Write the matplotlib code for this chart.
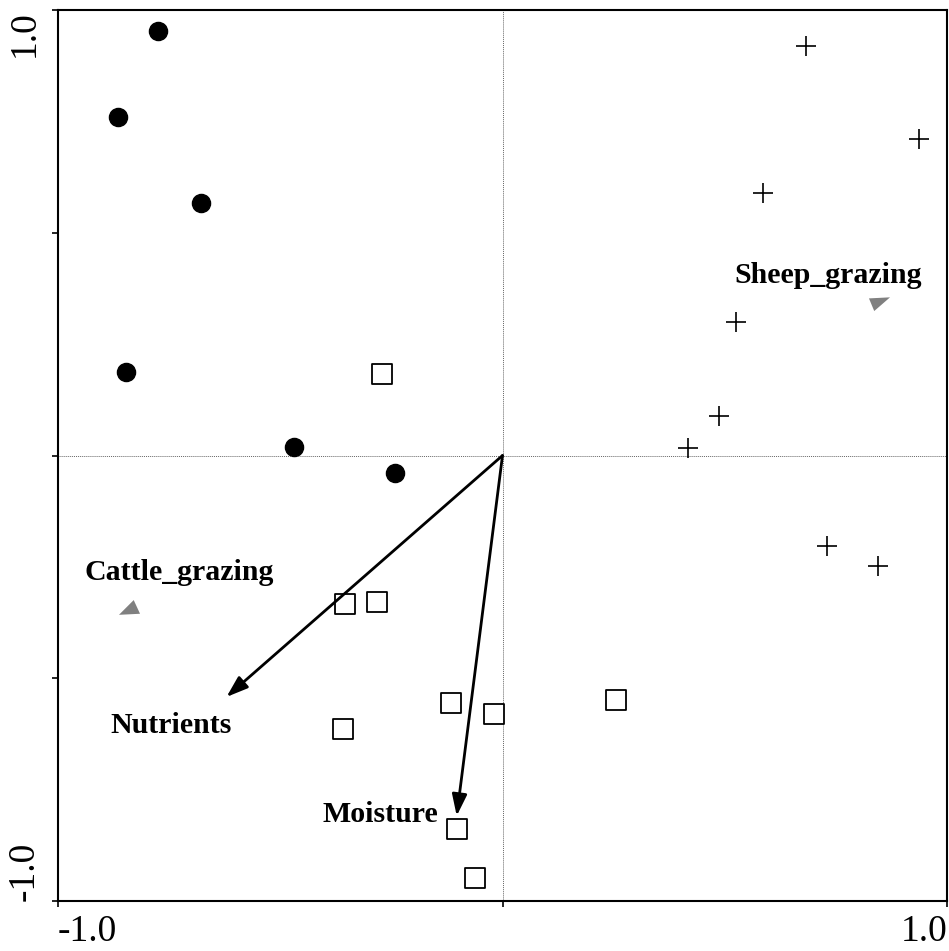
import matplotlib.pyplot as plt

# sample scores
circ_x = [-0.774, -0.866, -0.679, -0.848, -0.470, -0.241]
circ_y = [0.953, 0.760, 0.566, 0.187, 0.018, -0.040]

plus_x = [0.682, 0.936, 0.587, 0.526, 0.486, 0.418, 0.729, 0.844]
plus_y = [0.919, 0.710, 0.589, 0.299, 0.088, 0.016, -0.204, -0.249]

sq_x = [-0.272, -0.355, -0.283, -0.115, -0.018, 0.256, -0.358, -0.103, -0.061]
sq_y = [0.182, -0.333, -0.328, -0.555, -0.580, -0.548, -0.613, -0.838, -0.948]

# environmental variables (arrows)
env_names = ['Nutrients', 'Moisture']
env_x = [-0.621, -0.103]
env_y = [-0.542, -0.809]

# nominal variables (centroids)
nom_names = ['Sheep_grazing', 'Cattle_grazing']
nom_x = [0.846, -0.841]
nom_y = [0.348, -0.342]

plt.rcParams['font.family'] = ['Liberation Serif', 'DejaVu Serif']

fig = plt.figure(figsize=(9.49, 9.51), dpi=100)
ax = fig.add_axes([58 / 949, 50 / 951, 889 / 949, 891 / 951])

ax.axhline(0, color='#666666', lw=0.7, ls=(0, (1, 1)), zorder=1)
ax.axvline(0, color='#666666', lw=0.7, ls=(0, (1, 1)), zorder=1)

ax.scatter(circ_x, circ_y, s=170, c='black', marker='o', zorder=3)
ax.scatter(plus_x, plus_y, s=200, c='black', marker='+', linewidths=1.2, zorder=3)
ax.scatter(sq_x, sq_y, s=190, facecolors='white', edgecolors='black',
           marker='s', linewidths=1.3, zorder=3)

for name, x, y in zip(env_names, env_x, env_y):
    ax.annotate('', xy=(x, y), xytext=(0, 0),
                arrowprops=dict(arrowstyle='-|>,head_length=1.3,head_width=0.45',
                                color='black', lw=2, shrinkA=0, shrinkB=0), zorder=4)

ax.text(-0.745, -0.605, env_names[0], fontsize=21.5, fontweight='bold', ha='center', va='center')
ax.text(-0.275, -0.805, env_names[1], fontsize=21.5, fontweight='bold', ha='center', va='center')

sheep_tri = [(-1.0, 0.2), (1.0, 0.3), (-0.5, -1.0)]
cattle_tri = [(-1.0, -0.6), (1.0, -0.5), (0.4, 0.8)]
ax.scatter([nom_x[0]], [nom_y[0]], s=230, c='#808080', marker=sheep_tri, linewidths=0, zorder=3)
ax.scatter([nom_x[1]], [nom_y[1]], s=230, c='#808080', marker=cattle_tri, linewidths=0, zorder=3)
ax.text(0.732, 0.405, nom_names[0], fontsize=21.5, fontweight='bold', ha='center', va='center')
ax.text(-0.727, -0.262, nom_names[1], fontsize=21.5, fontweight='bold', ha='center', va='center')

ax.set_xlim(-1, 1)
ax.set_ylim(-1, 1)
ax.set_xticks([-1, 0, 1])
ax.set_xticklabels(['-1.0', '', '1.0'])
ax.set_yticks([-1, -0.5, 0, 0.5, 1])
ax.set_yticklabels(['-1.0', '', '', '', '1.0'], rotation=90)
ax.tick_params(direction='out', length=4, width=1.2, labelsize=27)
ax.tick_params(axis='x', pad=6)
ax.tick_params(axis='y', pad=8)

xl = ax.get_xticklabels()
xl[0].set_ha('left')
xl[-1].set_ha('right')
yl = ax.get_yticklabels()
for t in yl:
    t.set_va('center')
yl[0].set_va('bottom')
yl[-1].set_va('top')

for sp in ax.spines.values():
    sp.set_linewidth(1.5)

fig.savefig('out.png', dpi=100)
